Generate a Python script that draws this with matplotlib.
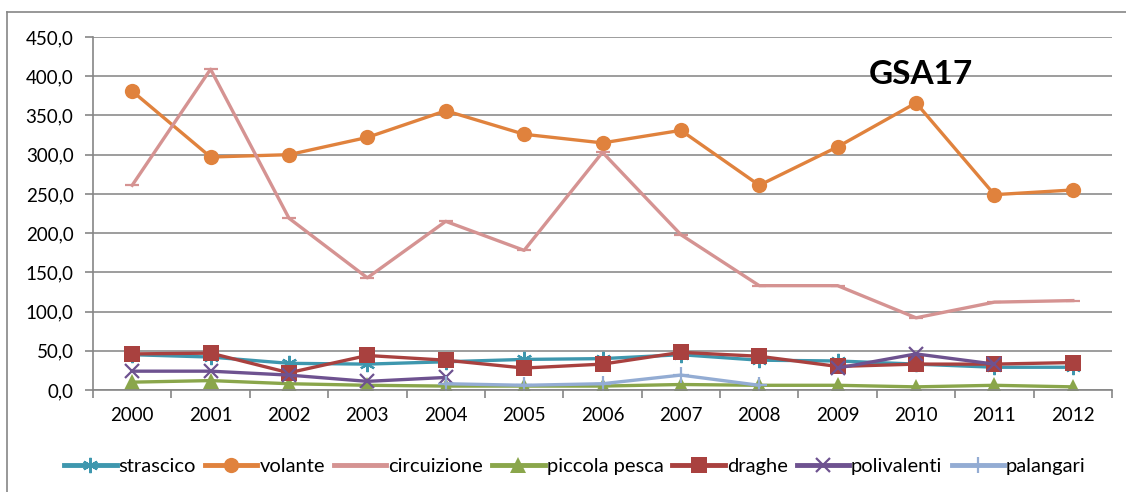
import numpy as np
import matplotlib
matplotlib.use("Agg")
import matplotlib.pyplot as plt
from matplotlib.ticker import FuncFormatter, FixedLocator
from matplotlib.lines import Line2D

plt.rcParams['font.family'] = ['Lato', 'DejaVu Sans']

# Data
years = ['2000', '2001', '2002', '2003', '2004', '2005', '2006',
         '2007', '2008', '2009', '2010', '2011', '2012']

strascico = [45, 42, 34, 33, 36, 39, 40, 45, 38, 37, 33, 29, 29]
volante = [381, 297, 300, 322, 356, 326, 315, 331, 261, 310, 366, 249, 255]
circuizione = [261, 409, 219, 143, 215, 178, 303, 198, 133, 133, 92, 112, 114]
piccola_pesca = [10, 12, 8, 6, 5, 5, 5, 7, 6, 6, 4, 6, 4]
draghe = [46, 47, 22, 44, 38, 28, 33, 48, 43, 30, 33, 33, 35]
polivalenti = [24, 24, 19, 11, 16, None, None, None, None, 28, 46, 33, None]
palangari = [None, None, None, None, 8, 6, 8, 19, 6, None, None, None, None]

series = [
    ('strascico', strascico, '#3E97AE', (6, 2, 0), 11),
    ('volante', volante, '#E0823D', 'o', 11),
    ('circuizione', circuizione, '#D59392', '_', 10),
    ('piccola pesca', piccola_pesca, '#8AA64B', '^', 11),
    ('draghe', draghe, '#A9413F', 's', 11),
    ('polivalenti', polivalenti, '#6E5290', 'x', 10),
    ('palangari', palangari, '#93ACD3', '+', 11),
]


def edge_width(marker):
    # line-type markers need a stroke, filled ones don't
    return 1.6 if marker in ('x', '+', '_') or isinstance(marker, tuple) else 0


fig = plt.figure(figsize=(11.26, 4.92), dpi=100)
ax = fig.add_axes([93 / 1126, 102 / 492, 1019 / 1126, 353 / 492])

x = np.arange(len(years))
handles = []
for name, vals, color, marker, ms in series:
    y = np.array([np.nan if v is None else v for v in vals], dtype=float)
    ax.plot(x, y, color=color, lw=2.4, marker=marker, markersize=ms,
            markeredgewidth=edge_width(marker),
            markerfacecolor=color, markeredgecolor=color, solid_joinstyle='round')
    handles.append(Line2D([], [], color=color, lw=3.5, marker=marker, markersize=ms,
                          markeredgewidth=edge_width(marker),
                          markerfacecolor=color, markeredgecolor=color))

# Axes styling
ax.set_xlim(-0.5, len(years) - 0.5)
ax.set_ylim(0, 450)
ax.set_yticks(np.arange(0, 451, 50))
ax.yaxis.set_major_formatter(FuncFormatter(lambda v, p: f"{v:.1f}".replace('.', ',')))
ax.set_xticks(x)
ax.set_xticklabels(years)
ax.xaxis.set_minor_locator(FixedLocator(np.arange(-0.5, len(years), 1)))
ax.tick_params(axis='x', which='major', length=0, pad=12, labelsize=13.5)
ax.tick_params(axis='x', which='minor', length=6, width=1.2, color='#868686', direction='out')
ax.tick_params(axis='y', length=6, width=1.2, color='#868686', pad=8, labelsize=13.5)

ax.grid(axis='y', color='#8C8C8C', lw=1.2)
ax.set_axisbelow(True)
for side in ('top', 'right'):
    ax.spines[side].set_visible(False)
for side in ('left', 'bottom'):
    ax.spines[side].set_color('#868686')
    ax.spines[side].set_linewidth(1.2)

ax.text(0.812, 0.895, 'GSA17', transform=ax.transAxes, fontsize=24,
        fontweight='bold', ha='center', va='center')

fig.legend(handles, [s[0] for s in series], loc='center', ncol=7,
           bbox_to_anchor=(575 / 1126, 1 - 466 / 492), frameon=False,
           fontsize=14.5, handlelength=2.6, handletextpad=0.1,
           columnspacing=0.45)

# Outer chart border (left and top only visible)
fig.add_artist(Line2D([7 / 1126, 7 / 1126], [0, 1 - 12 / 492], color='#868686', lw=1.2))
fig.add_artist(Line2D([7 / 1126, 1], [1 - 12 / 492, 1 - 12 / 492], color='#868686', lw=1.2))

fig.savefig('out.png', dpi=100)
